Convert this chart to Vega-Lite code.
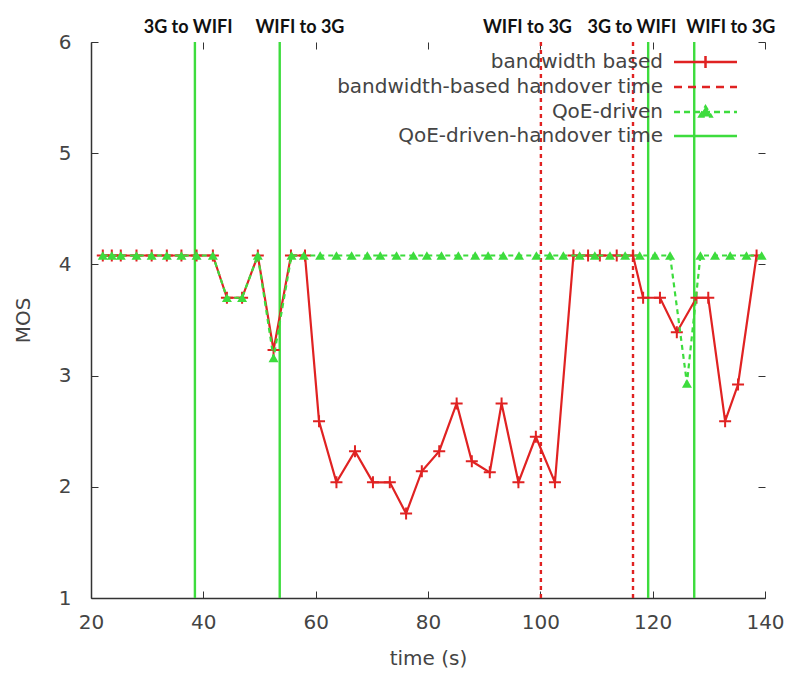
{
  "$schema": "https://vega.github.io/schema/vega-lite/v6.json",
  "width": 674,
  "height": 556,
  "autosize": {"type": "none"},
  "padding": {"left": 91, "top": 42, "right": 20, "bottom": 77},
  "background": "white",
  "config": {"view": {"stroke": null}},
  "datasets": {
    "bw": [
      {"t": 22.1, "mos": 4.08}, {"t": 23.7, "mos": 4.08}, {"t": 25.3, "mos": 4.08}, {"t": 28.1, "mos": 4.08},
      {"t": 30.8, "mos": 4.08}, {"t": 33.5, "mos": 4.08}, {"t": 36.1, "mos": 4.08}, {"t": 38.8, "mos": 4.08},
      {"t": 41.7, "mos": 4.08}, {"t": 44.2, "mos": 3.7}, {"t": 46.9, "mos": 3.7}, {"t": 49.7, "mos": 4.08},
      {"t": 52.5, "mos": 3.23}, {"t": 55.6, "mos": 4.08}, {"t": 58.1, "mos": 4.08}, {"t": 60.6, "mos": 2.59},
      {"t": 63.7, "mos": 2.04}, {"t": 67.0, "mos": 2.32}, {"t": 70.2, "mos": 2.04}, {"t": 73.2, "mos": 2.04},
      {"t": 76.1, "mos": 1.76}, {"t": 78.9, "mos": 2.14}, {"t": 82.0, "mos": 2.32}, {"t": 85.1, "mos": 2.75},
      {"t": 87.8, "mos": 2.23}, {"t": 91.0, "mos": 2.13}, {"t": 93.1, "mos": 2.75}, {"t": 96.1, "mos": 2.04},
      {"t": 99.2, "mos": 2.45}, {"t": 102.6, "mos": 2.04}, {"t": 105.9, "mos": 4.08}, {"t": 108.5, "mos": 4.08},
      {"t": 110.6, "mos": 4.08}, {"t": 113.6, "mos": 4.08}, {"t": 116.5, "mos": 4.08}, {"t": 118.3, "mos": 3.7},
      {"t": 121.3, "mos": 3.7}, {"t": 124.3, "mos": 3.39}, {"t": 127.8, "mos": 3.7}, {"t": 129.9, "mos": 3.7},
      {"t": 132.9, "mos": 2.59}, {"t": 135.2, "mos": 2.92}, {"t": 138.5, "mos": 4.08}
    ],
    "qoe": [
      {"t": 22.1, "mos": 4.08}, {"t": 23.7, "mos": 4.08}, {"t": 25.3, "mos": 4.08}, {"t": 28.1, "mos": 4.08},
      {"t": 30.8, "mos": 4.08}, {"t": 33.5, "mos": 4.08}, {"t": 36.1, "mos": 4.08}, {"t": 38.8, "mos": 4.08},
      {"t": 41.7, "mos": 4.08}, {"t": 44.2, "mos": 3.7}, {"t": 46.9, "mos": 3.7}, {"t": 49.7, "mos": 4.08},
      {"t": 52.5, "mos": 3.16}, {"t": 55.7, "mos": 4.08}, {"t": 57.9, "mos": 4.08}, {"t": 60.8, "mos": 4.08},
      {"t": 63.7, "mos": 4.08}, {"t": 66.4, "mos": 4.08}, {"t": 69.2, "mos": 4.08}, {"t": 71.5, "mos": 4.08},
      {"t": 74.4, "mos": 4.08}, {"t": 77.4, "mos": 4.08}, {"t": 79.8, "mos": 4.08}, {"t": 82.4, "mos": 4.08},
      {"t": 85.4, "mos": 4.08}, {"t": 88.4, "mos": 4.08}, {"t": 90.7, "mos": 4.08}, {"t": 93.4, "mos": 4.08},
      {"t": 96.2, "mos": 4.08}, {"t": 99.3, "mos": 4.08}, {"t": 101.7, "mos": 4.08}, {"t": 104.1, "mos": 4.08},
      {"t": 107.0, "mos": 4.08}, {"t": 109.7, "mos": 4.08}, {"t": 112.4, "mos": 4.08}, {"t": 115.1, "mos": 4.08},
      {"t": 117.7, "mos": 4.08}, {"t": 120.4, "mos": 4.08}, {"t": 123.1, "mos": 4.08}, {"t": 126.1, "mos": 2.93},
      {"t": 128.5, "mos": 4.08}, {"t": 131.1, "mos": 4.08}, {"t": 133.8, "mos": 4.08}, {"t": 136.7, "mos": 4.08},
      {"t": 139.4, "mos": 4.08}
    ],
    "hand": [
      {"t": 38.5, "series": "QoE-driven-handover time"},
      {"t": 53.6, "series": "QoE-driven-handover time"},
      {"t": 100.1, "series": "bandwidth-based handover time"},
      {"t": 116.5, "series": "bandwidth-based handover time"},
      {"t": 119.2, "series": "QoE-driven-handover time"},
      {"t": 127.4, "series": "QoE-driven-handover time"}
    ],
    "labels": [
      {"t": 37.3, "text": "3G to WIFI"},
      {"t": 57.2, "text": "WIFI to 3G"},
      {"t": 97.7, "text": "WIFI to 3G"},
      {"t": 116.3, "text": "3G to WIFI"},
      {"t": 133.9, "text": "WIFI to 3G"}
    ]
  },
  "resolve": {"axis": {"x": "independent", "y": "independent"}},
  "layer": [
    {
      "data": {"name": "hand"},
      "mark": {"type": "rule", "strokeWidth": 2.4},
      "encoding": {
        "x": {"field": "t", "type": "quantitative", "title": "time (s)",
          "scale": {"domain": [20, 140], "nice": false, "zero": false},
          "axis": {"orient": "bottom", "values": [20, 40, 60, 80, 100, 120, 140], "grid": false,
            "domainColor": "#333", "domainWidth": 1.5, "tickColor": "#333", "tickSize": -7, "tickWidth": 1,
            "labelFont": "DejaVu Sans", "labelFontSize": 20, "labelColor": "#444", "labelPadding": 21,
            "labelFlush": false, "labelOverlap": false,
            "titleFont": "DejaVu Sans", "titleFontSize": 20, "titleFontWeight": "normal", "titleColor": "#444", "titlePadding": 16}},
        "color": {"field": "series", "type": "nominal",
          "scale": {"domain": ["bandwidth based", "bandwidth-based handover time", "QoE-driven", "QoE-driven-handover time"],
            "range": ["#e02222", "#e02222", "#3ddc3d", "#3ddc3d"]},
          "legend": {
            "title": null, "orient": "none", "legendX": 552, "legendY": 10,
            "labelAlign": "right", "labelOffset": 0, "labelFont": "DejaVu Sans", "labelFontSize": 20,
            "labelColor": "#444", "labelLimit": 500, "symbolSize": 100, "rowPadding": 4, "padding": 0,
            "encode": {"symbols": {"update": {
              "shape": {"signal": "datum.value == 'bandwidth based' ? 'M4.2,0H16.8M10.5,-1.2V1.2' : datum.value == 'QoE-driven' ? 'M4.2,0H16.8M9.3,0.9L10.5,-1.1L11.7,0.9Z' : 'M4.2,0H16.8'"},
              "strokeDash": {"signal": "datum.value == 'bandwidth-based handover time' ? [8,6] : datum.value == 'QoE-driven' ? [6,4] : [1,0]"},
              "fill": {"signal": "datum.value == 'QoE-driven' ? '#3ddc3d' : 'transparent'"},
              "stroke": {"signal": "indexof(['bandwidth based','bandwidth-based handover time'], datum.value) >= 0 ? '#e02222' : '#3ddc3d'"},
              "strokeWidth": {"value": 2.5},
              "opacity": {"value": 1}
            }}}
          }},
        "strokeDash": {"condition": {"test": "datum.series == 'bandwidth-based handover time'", "value": [4, 4]}, "value": [1, 0]}
      }
    },
    {
      "data": {"name": "bw"},
      "mark": {"type": "line", "strokeWidth": 2.2},
      "encoding": {
        "x": {"field": "t", "type": "quantitative",
          "axis": {"orient": "top", "values": [20, 40, 60, 80, 100, 120, 140], "grid": false, "domain": false,
            "labels": false, "title": null, "tickColor": "#333", "tickSize": -7, "tickWidth": 1}},
        "y": {"field": "mos", "type": "quantitative",
          "axis": {"orient": "right", "values": [1, 2, 3, 4, 5, 6], "grid": false, "domain": false,
            "labels": false, "title": null, "tickColor": "#333", "tickSize": -7, "tickWidth": 1}},
        "color": {"datum": "bandwidth based"}
      }
    },
    {
      "data": {"name": "bw"},
      "mark": {"type": "point", "shape": "M-1,0H1M0,-1V1", "size": 144, "filled": false, "stroke": "#e02222", "strokeWidth": 2, "opacity": 1},
      "encoding": {
        "x": {"field": "t", "type": "quantitative", "axis": null},
        "y": {"field": "mos", "type": "quantitative", "axis": null}
      }
    },
    {
      "data": {"name": "qoe"},
      "mark": {"type": "line", "strokeWidth": 2.2, "strokeDash": [5, 4]},
      "encoding": {
        "x": {"field": "t", "type": "quantitative", "axis": null},
        "y": {"field": "mos", "type": "quantitative", "axis": null},
        "color": {"datum": "QoE-driven"}
      }
    },
    {
      "data": {"name": "qoe"},
      "mark": {"type": "point", "shape": "triangle-up", "size": 100, "filled": true, "color": "#3ddc3d", "opacity": 1},
      "encoding": {
        "x": {"field": "t", "type": "quantitative", "axis": null},
        "y": {"field": "mos", "type": "quantitative", "axis": null}
      }
    },
    {
      "data": {"name": "labels"},
      "mark": {"type": "text", "font": "Lato", "fontWeight": "bold", "fontSize": 18, "color": "#111", "baseline": "alphabetic", "align": "center", "dy": -9},
      "encoding": {
        "x": {"field": "t", "type": "quantitative", "axis": null},
        "y": {"datum": 6, "type": "quantitative",
          "scale": {"domain": [1, 6], "nice": false, "zero": false},
          "axis": {"orient": "left", "values": [1, 2, 3, 4, 5, 6], "grid": false, "title": "MOS",
            "domainColor": "#333", "domainWidth": 1.5, "tickColor": "#333", "tickSize": -7, "tickWidth": 1,
            "labelFont": "DejaVu Sans", "labelFontSize": 20, "labelColor": "#444", "labelPadding": 27,
            "titleFont": "DejaVu Sans", "titleFontSize": 20, "titleFontWeight": "normal", "titleColor": "#444", "titlePadding": 25}},
        "text": {"field": "text"}
      }
    }
  ]
}
